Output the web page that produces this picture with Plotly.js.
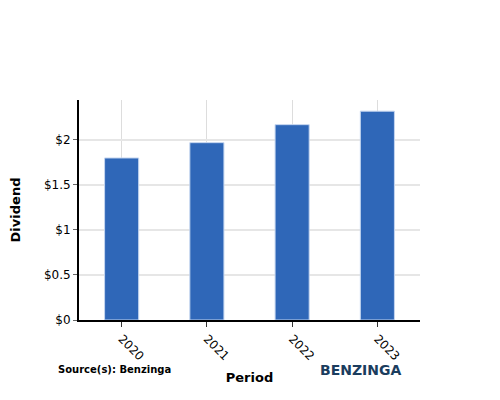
<!DOCTYPE html>
<html><head><meta charset="utf-8">
<script src="https://cdn.plot.ly/plotly-3.0.1.min.js"></script>
<style>html,body{margin:0;padding:0;background:#fff}#c{width:500px;height:400px}</style>
</head><body><div id="c"></div>
<script>
var periods = ['2020', '2021', '2022', '2023'];
var dividends = [1.80, 1.97, 2.17, 2.32];
var yTickVals = [0, 0.5, 1, 1.5, 2];
var yTickText = ['$0', '$0.5', '$1', '$1.5', '$2'];

var trace = {
  type: 'bar', x: periods, y: dividends, width: 0.4,
  marker: {color: '#2f67b8', line: {color: '#c5d6f0', width: 1}},
  hoverinfo: 'none'
};
var layout = {
  width: 500, height: 400,
  margin: {l: 79, r: 80, t: 100, b: 80},
  paper_bgcolor: '#fff', plot_bgcolor: '#fff',
  font: {family: 'DejaVu Sans', size: 12, color: '#000'},
  showlegend: false,
  xaxis: {
    type: 'category', range: [-0.5, 3.5],
    showgrid: true, gridcolor: '#dddddd', gridwidth: 1,
    showline: true, linecolor: '#000', linewidth: 2,
    ticks: 'outside', ticklen: 5, tickcolor: '#333', tickangle: 45,
    tickfont: {family: 'DejaVu Sans', size: 12, color: '#000'},
    title: {text: '<b>Period</b>', font: {family: 'DejaVu Sans', size: 13}, standoff: 11}
  },
  yaxis: {
    range: [0, 2.444], tickvals: yTickVals, ticktext: yTickText,
    showgrid: true, gridcolor: '#e6e6e6', gridwidth: 1.5,
    showline: true, linecolor: '#000', linewidth: 2, zeroline: false,
    ticks: 'outside', ticklen: 4, tickcolor: '#666',
    tickfont: {family: 'DejaVu Sans', size: 12, color: '#000'},
    title: {text: '<b>Dividend</b>', font: {family: 'DejaVu Sans', size: 13}, standoff: 20}
  },
  annotations: [
    {text: '<b>Source(s): Benzinga</b>', xref: 'paper', yref: 'paper', x: -0.068, y: -0.224,
     xanchor: 'left', yanchor: 'middle', showarrow: false,
     font: {family: 'DejaVu Sans', size: 10, color: '#000'}},
    {text: '<b>BENZINGA</b>', xref: 'paper', yref: 'paper', x: 0.827, y: -0.226,
     xanchor: 'center', yanchor: 'middle', showarrow: false,
     font: {family: 'DejaVu Sans', size: 14, color: '#1b3d5e'}}
  ]
};
Plotly.newPlot('c', [trace], layout, {displayModeBar: false, staticPlot: true});
</script></body></html>
